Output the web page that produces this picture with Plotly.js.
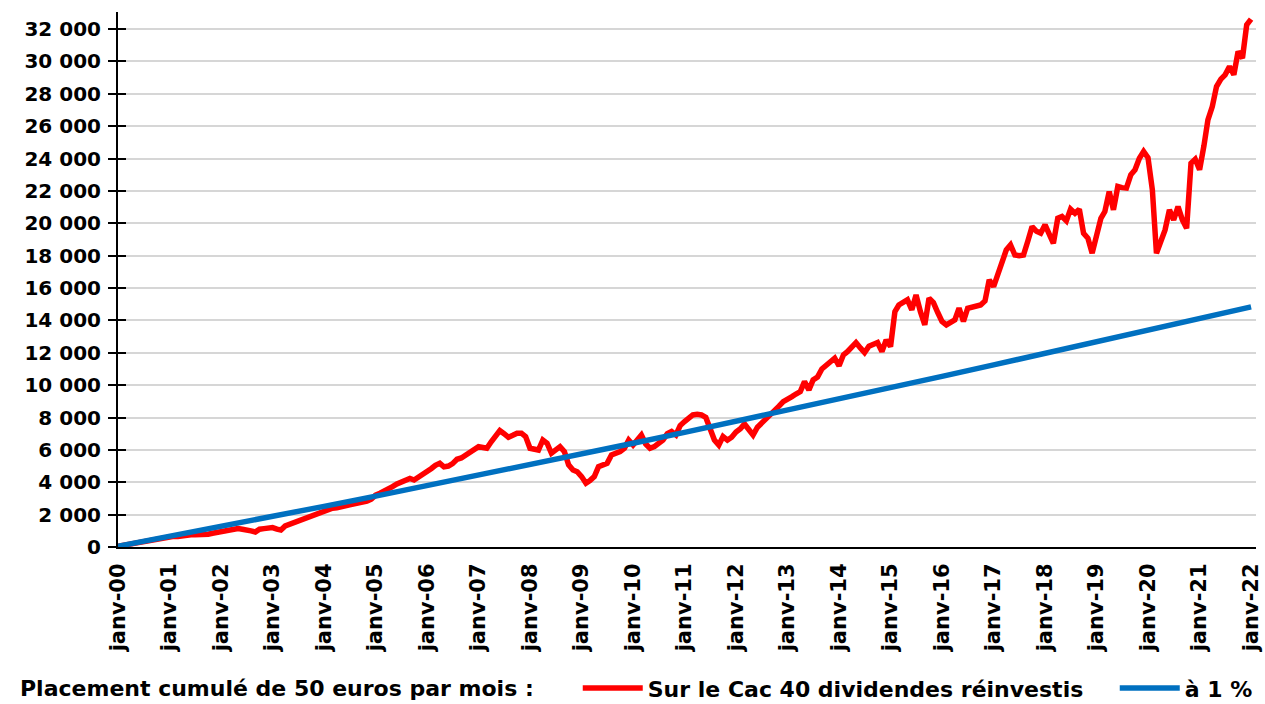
<!DOCTYPE html>
<html>
<head>
<meta charset="utf-8">
<script src="https://cdn.plot.ly/plotly-3.0.1.min.js"></script>
<style>
html,body{margin:0;padding:0;background:#fff;}
#chart{width:1265px;height:704px;}
</style>
</head>
<body>
<div id="chart"></div>
<script>
// Monthly values (euros) of the cumulated 50 €/month investment in the CAC 40, dividends reinvested
const cac2000 = [50,100,150,200,250,300,350,400,445,490,540,585];
const cac2001 = [640,660,650,710,750,760,750,760,720,790,850,900];
const cac2002 = [990,1030,1100,1150,1140,1100,1090,1000,930,1100,1135,1180];
const cac2003 = [1200,1100,1050,1300,1400,1510,1600,1700,1800,1920,2000,2130];
const cac2004 = [2230,2330,2400,2430,2450,2550,2600,2640,2700,2760,2840,2950];
const cac2005 = [3200,3320,3420,3550,3730,3900,4040,4150,4240,4140,4300,4500];
const cac2006 = [4600,4850,5050,5170,4950,5000,5150,5420,5500,5650,5830,6000];
const cac2007 = [6200,6150,6100,6500,6900,7190,7000,6780,6900,7030,7030,6820];
const cac2008 = [6100,6050,5990,6610,6410,5790,6000,6200,5890,5070,4760,4650];
const cac2009 = [4350,3940,4100,4350,4960,5050,5170,5690,5800,5890,6100,6610];
const cac2010 = [6300,6600,6920,6360,6100,6200,6450,6610,7000,7130,6920,7500];
const cac2011 = [7750,7950,8160,8200,8160,8000,7230,6610,6300,6820,6600,6780];
const cac2012 = [7100,7300,7600,7230,6920,7400,7640,7950,8150,8360,8700,8980];
const cac2013 = [9100,9290,9450,9600,10220,9700,10320,10500,11000,11250,11450,11660];
const cac2014 = [11190,11870,12070,12350,12630,12300,12010,12400,12550,12630,12070,12790];
const cac2015 = [12380,14540,14950,15100,15270,14650,15570,14540,13720,15370,15100,14500];
const cac2016 = [13930,13720,13900,14030,14750,13930,14750,14800,14850,14950,15200,16500];
const cac2017 = [16090,16900,17600,18350,18660,18040,18000,18040,18900,19790,19500,19380];
const cac2018 = [19900,19280,18760,20310,20420,20150,20870,20620,20870,19380,19070,18150];
const cac2019 = [19180,20310,20720,21960,20830,22270,22200,22170,22990,23300,24020,24430];
const cac2020 = [24050,22060,18150,18970,19590,20830,20210,21030,20210,19690,23710,23960];
const cac2021 = [23300,24800,26390,27210,28450,28900,29170,29680,29170,30610,30200,32260];
const cac2022 = [32610];

// Value each January of the same investment at 1 %
const taux1Janvier = [50,650,1260,1880,2510,3140,3780,4430,5080,5740,6410,7080,7760,8440,9130,9830,10540,11250,11970,12690,13420,14160,14830];

const xTickLabels = ['janv-00','janv-01','janv-02','janv-03','janv-04','janv-05','janv-06','janv-07','janv-08','janv-09','janv-10','janv-11','janv-12','janv-13','janv-14','janv-15','janv-16','janv-17','janv-18','janv-19','janv-20','janv-21','janv-22'];
const startYear = 2000;
const serieCacName = 'Sur le Cac 40 dividendes réinvestis';
const serieTauxName = 'à 1 %';
const legendLead = 'Placement cumulé de 50 euros par mois :';

const cacValues = [].concat(cac2000,cac2001,cac2002,cac2003,cac2004,cac2005,cac2006,cac2007,cac2008,cac2009,cac2010,cac2011,cac2012,cac2013,cac2014,cac2015,cac2016,cac2017,cac2018,cac2019,cac2020,cac2021,cac2022);
const cacDates = cacValues.map((v,i)=>{
  const y = startYear + Math.floor(i/12);
  const m = (i%12)+1;
  return y + '-' + String(m).padStart(2,'0') + '-01';
});
const janDates = taux1Janvier.map((v,i)=> (startYear+i) + '-01-01');

const traces = [
  {x: cacDates, y: cacValues, type:'scatter', mode:'lines', name: serieCacName,
   line:{color:'#FF0000', width:5.5}, hoverinfo:'x+y'},
  {x: janDates, y: taux1Janvier, type:'scatter', mode:'lines', name: serieTauxName,
   line:{color:'#0070C0', width:5.5}, hoverinfo:'x+y'},
  {x: [], y: [], xaxis:'x', yaxis:'y2', showlegend:false, hoverinfo:'skip', type:'scatter', mode:'lines'}
];

const yTop = 33050;
const font = {family:'DejaVu Sans, Arial, sans-serif', color:'#000', weight:'bold'};

const layout = {
  width:1265, height:704,
  margin:{l:118, r:9, t:12, b:157, autoexpand:false},
  paper_bgcolor:'#fff', plot_bgcolor:'#fff',
  separators:', ',
  showlegend:true,
  xaxis:{
    type:'date', automargin:false,
    range:['2000-01-01','2022-02-05'],
    tickvals: janDates, ticktext: xTickLabels,
    tickangle:-90,
    tickfont:Object.assign({size:21}, font),
    showgrid:false, zeroline:false,
    showline:true, linecolor:'#000', linewidth:2,
    ticks:'', ticklabelstandoff:6
  },
  yaxis:{
    automargin:false,
    range:[0,yTop], dtick:2000, tick0:0, tickformat:',d',
    tickfont:Object.assign({size:20}, font),
    showgrid:true, gridcolor:'#D6D6D6', gridwidth:2,
    zeroline:false, showline:true, linecolor:'#000', linewidth:2,
    ticks:'outside', ticklen:8, tickwidth:2, tickcolor:'#000',
    ticklabelstandoff:3
  },
  yaxis2:{
    overlaying:'y', side:'left', range:[0,yTop], dtick:2000, tick0:0, automargin:false,
    showticklabels:false, showgrid:false, zeroline:false, showline:false,
    ticks:'inside', ticklen:8, tickwidth:2, tickcolor:'#000'
  },
  legend:{
    orientation:'h', x:0.404, xanchor:'left', yref:'container', y:0.0225, yanchor:'middle',
    font:Object.assign({size:22}, font),
    itemwidth:60, entrywidthmode:'pixels', entrywidth:462, tracegroupgap:0, bgcolor:'rgba(0,0,0,0)'
  },
  annotations:[{
    text: legendLead, xref:'paper', yref:'paper', x:-0.088, xanchor:'left',
    y:-0.2636, yanchor:'middle', showarrow:false,
    font:Object.assign({size:22}, font)
  }]
};

Plotly.newPlot('chart', traces, layout, {displayModeBar:false, staticPlot:true});
</script>
</body>
</html>
